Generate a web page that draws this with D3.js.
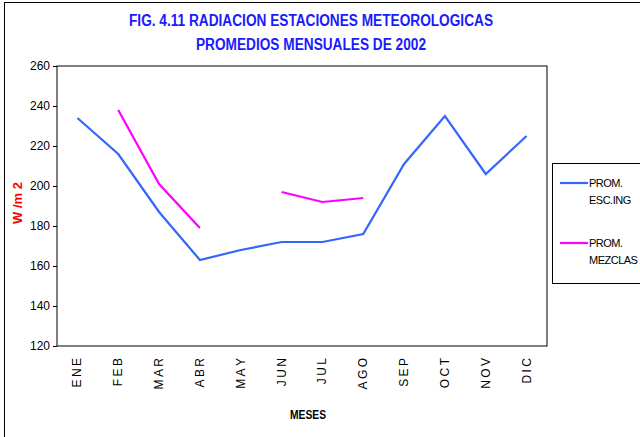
<!DOCTYPE html>
<html>
<head>
<meta charset="utf-8">
<script src="https://cdn.jsdelivr.net/npm/d3@7"></script>
<style>
  body { margin: 0; background: #fff; }
  svg { display: block; font-family: "Liberation Sans Narrow", "Arial Narrow", "Liberation Sans", sans-serif; }
</style>
</head>
<body>
<svg id="chart"></svg>
<script>
// chart data
var months = ["ENE", "FEB", "MAR", "ABR", "MAY", "JUN", "JUL", "AGO", "SEP", "OCT", "NOV", "DIC"];
var monthLabels = ["E N E", "F E B", "M A R", "A B R", "M A Y", "J U N", "J U L", "A G O", "S E P", "O C T", "N O V", "D I C"];
var escIng = [234, 216, 187, 163, 168, 172, 172, 176, 211, 235, 206, 225];
var mezclas = [null, 238, 201, 179, null, 197, 192, 194, null, null, null, null];
var yTicks = [120, 140, 160, 180, 200, 220, 240, 260];
var seriesNames = [["PROM.", "ESC.ING"], ["PROM.", "MEZCLAS"]];
var seriesColors = ["#3366FF", "#FF00FF"];

var dimensions = {
    width: 640,
    height: 437,
    margin: { top: 66, bottom: 91, left: 57, right: 93 }
};

var svg = d3.select("#chart")
    .attr("width", dimensions.width)
    .attr("height", dimensions.height);

// outer frame
svg.append("rect")
    .attr("x", 4.5).attr("y", 2.5)
    .attr("width", 640).attr("height", 440)
    .attr("fill", "none")
    .attr("stroke", "#000")
    .attr("stroke-width", 1);

var xScale = d3.scaleBand()
    .domain(months)
    .range([dimensions.margin.left, dimensions.width - dimensions.margin.right]);

var yScale = d3.scaleLinear()
    .domain([120, 260])
    .range([dimensions.height - dimensions.margin.bottom, dimensions.margin.top]);

// plot area border
svg.append("rect")
    .attr("x", dimensions.margin.left)
    .attr("y", dimensions.margin.top)
    .attr("width", dimensions.width - dimensions.margin.left - dimensions.margin.right)
    .attr("height", dimensions.height - dimensions.margin.top - dimensions.margin.bottom)
    .attr("fill", "none")
    .attr("stroke", "#000")
    .attr("stroke-width", 1);

// y axis
var yAxis = svg.append("g")
    .attr("transform", `translate(${dimensions.margin.left}, 0)`)
    .call(d3.axisLeft(yScale).tickValues(yTicks).tickSize(4).tickPadding(3));
yAxis.select(".domain").remove();
yAxis.selectAll("text")
    .style("font-size", "12px")
    .style("font-family", "\"Liberation Sans Narrow\", \"Liberation Sans\", sans-serif");

// x labels rotated
svg.selectAll(".month")
    .data(months)
    .enter()
    .append("text")
    .attr("class", "month")
    .attr("transform", d => `translate(${xScale(d) + xScale.bandwidth() / 2 + 4}, 358) rotate(-90)`)
    .attr("text-anchor", "end")
    .style("font-size", "12px")
    .style("font-family", "\"Liberation Sans\", sans-serif")
    .text((d, i) => monthLabels[i].replace(/ /g, "\u2009"));

// lines
var line = d3.line()
    .defined(d => d.v != null)
    .x(d => xScale(d.m) + xScale.bandwidth() / 2)
    .y(d => yScale(d.v));

[escIng, mezclas].forEach(function (vals, i) {
    svg.append("path")
        .datum(vals.map((v, j) => ({ m: months[j], v: v })))
        .attr("d", line)
        .attr("fill", "none")
        .attr("stroke", seriesColors[i])
        .attr("stroke-width", 2.2);
});

// titles
var title = svg.append("g")
    .attr("fill", "#1a1aff")
    .style("font-weight", "bold")
    .style("font-size", "16px");
title.append("text")
    .attr("x", 311).attr("y", 26)
    .attr("text-anchor", "middle")
    .attr("textLength", 364)
    .attr("lengthAdjust", "spacingAndGlyphs")
    .text("FIG. 4.11  RADIACION ESTACIONES METEOROLOGICAS");
title.append("text")
    .attr("x", 311).attr("y", 50)
    .attr("text-anchor", "middle")
    .attr("textLength", 230)
    .attr("lengthAdjust", "spacingAndGlyphs")
    .text("PROMEDIOS MENSUALES DE 2002");

svg.append("text")
    .attr("transform", "translate(22, 203) rotate(-90)")
    .attr("text-anchor", "middle")
    .attr("fill", "#ff0000")
    .style("font-weight", "bold")
    .style("font-size", "13px")
    .text("W /m 2");

svg.append("text")
    .attr("x", 308).attr("y", 419)
    .attr("text-anchor", "middle")
    .style("font-weight", "bold")
    .style("font-size", "12px")
    .attr("textLength", 36)
    .attr("lengthAdjust", "spacingAndGlyphs")
    .text("MESES");

// legend
var legend = svg.append("g");
legend.append("rect")
    .attr("x", 552.5).attr("y", 163.5)
    .attr("width", 100).attr("height", 120)
    .attr("fill", "#fff")
    .attr("stroke", "#000");

seriesNames.forEach(function (name, i) {
    var y = 183 + i * 60;
    legend.append("line")
        .attr("x1", 560).attr("x2", 588)
        .attr("y1", y).attr("y2", y)
        .attr("stroke", seriesColors[i])
        .attr("stroke-width", 2.2);
    legend.append("text")
        .attr("x", 589).attr("y", y + 4)
        .style("font-size", "11px")
        .style("letter-spacing", "-0.5px")
        .text(name[0]);
    legend.append("text")
        .attr("x", 589).attr("y", y + 21)
        .style("font-size", "11px")
        .style("letter-spacing", "-0.5px")
        .text(name[1]);
});
</script>
</body>
</html>
